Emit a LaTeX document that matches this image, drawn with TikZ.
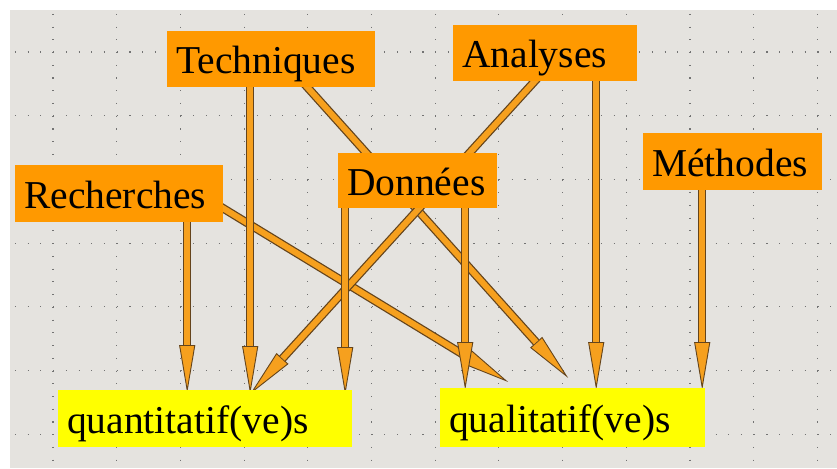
\documentclass[tikz,border=0pt]{standalone}
\usepackage{fontspec}
\setmainfont{Liberation Serif}
\usetikzlibrary{arrows.meta}
\definecolor{fondgris}{RGB}{229,227,223}
\definecolor{orangeboite}{RGB}{255,153,0}
\definecolor{jauneboite}{RGB}{255,255,0}
\definecolor{bordfleche}{RGB}{100,68,28}
\definecolor{orangefleche}{RGB}{246,160,30}
\pgfdeclarelayer{fond}
\pgfdeclarelayer{fleches}
\pgfsetlayers{fond,fleches,main}
\tikzset{
  boite/.style={anchor=north west, fill=orangeboite, inner xsep=9pt, inner ysep=0pt,
    text height=31pt, text depth=2pt, align=left, font=\rmfamily\fontsize{39.5}{44}\selectfont},
  resultat/.style={boite, fill=jauneboite},
  fleche/.style={line width=8.5pt, draw=bordfleche,
    -{Triangle[length=48pt,width=16pt,fill=orangefleche,line width=0.9pt]},
    postaction={draw=orangefleche, line width=6pt, -, shorten >=48pt}},
  pointille/.style={draw=black!55, line width=1.1pt, dash pattern=on 1.1pt off 11.64pt}
}

\begin{document}
\begin{tikzpicture}[x=1pt, y=-1pt]
			%%%%% FOND %%%%%
			\useasboundingbox (0,0) rectangle (837,468);
			\begin{pgfonlayer}{fond}
			\fill[fondgris] (10,10) rectangle (837,468);
			\foreach \i in {0,...,12}
				\draw[pointille] ({53+63.7*\i},13.8) -- ({53+63.7*\i},468);
			\foreach \j in {0,...,6}
				\draw[pointille] (14.8,{52+63.7*\j}) -- (837,{52+63.7*\j});
			\end{pgfonlayer}
			
			%%%%% BOITES %%%%%
			\node[boite, text width=190pt, minimum height=56pt] (tech) at (167,31) {Techniques};
			\node[boite, text width=166pt, minimum height=56pt] (ana) at (453,25) {Analyses};
			\node[boite, text width=190pt, minimum height=57pt] (rech) at (15,165) {Recherches};
			\node[boite, text width=141pt, minimum height=55pt] (don) at (338,153) {Données};
			\node[boite, text width=161pt, minimum height=57pt] (meth) at (643,133) {Méthodes};
			
			\node[resultat, text width=276pt, minimum height=57pt] (quanti) at (58,390) {quantitatif(ve)s};
			\node[resultat, text width=247pt, minimum height=59pt] (quali) at (440,388) {qualitatif(ve)s};
			
			%%%%% FLECHES %%%%%
			\begin{pgfonlayer}{fleches}
			\draw[fleche] ([xshift=68pt]rech.south) -- ([xshift=-18pt,yshift=-3pt]quanti.north);
			\draw[fleche] ([xshift=80pt]rech.center) -- ([xshift=-64.5pt,yshift=6pt]quali.north);
			\draw[fleche] ([xshift=-21pt]tech.south) -- ([xshift=45pt,yshift=-4pt]quanti.north);
			\draw[fleche] ([xshift=11pt]tech.center) -- ([xshift=-4.5pt,yshift=10pt]quali.north);
			\draw[fleche] ([xshift=15pt]ana.center) -- ([xshift=45pt,yshift=-4pt]quanti.north);
			\draw[fleche] ([xshift=51pt]ana.south) -- ([xshift=23.5pt,yshift=-2pt]quali.north);
			\draw[fleche] ([xshift=-72.5pt]don.south) -- ([xshift=140pt,yshift=-5pt]quanti.north);
			\draw[fleche] ([xshift=47.5pt]don.south) -- ([xshift=-107.5pt,yshift=-2pt]quali.north);
			\draw[fleche] ([xshift=-30.5pt]meth.south) -- ([xshift=129.5pt,yshift=-2pt]quali.north);
			\end{pgfonlayer}
			
			%%%%% FIN %%%%%
\end{tikzpicture}
\end{document}
